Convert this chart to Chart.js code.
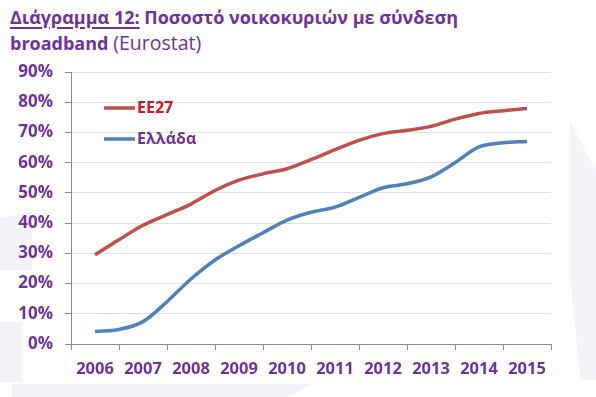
<!DOCTYPE html>
<html>
<head>
<meta charset="utf-8">
<script src="https://cdn.jsdelivr.net/npm/chart.js@4.4.1/dist/chart.umd.min.js"></script>
<style>
  html, body { margin: 0; padding: 0; background: #fff; }
  body { width: 596px; height: 397px; position: relative; overflow: hidden; font-family: "Open Sans", sans-serif; }
  .wm { position: absolute; background: #f3f4f8; }
  #title { position: absolute; left: 10px; top: 4px; color: #7030A0; font-size: 18px; line-height: 26px; white-space: nowrap; font-weight: 700; }
  #title span { font-weight: 400; font-size: 19.5px; }
  #title u { text-decoration-thickness: 2px; text-underline-offset: 3px; }
  #chartBox { position: absolute; left: 0; top: 0; width: 596px; height: 397px; }
</style>
</head>
<body>
<div class="wm" style="left:0;top:212px;width:32px;height:58px;clip-path:polygon(0 10%,100% 0,100% 100%,0 100%);"></div>
<div class="wm" style="left:0;top:322px;width:22px;height:60px;"></div>
<div class="wm" style="left:12px;top:384px;width:300px;height:13px;clip-path:polygon(0 0,100% 0,92% 100%,0 100%);"></div>
<div class="wm" style="left:570px;top:120px;width:26px;height:260px;clip-path:polygon(0 0,100% 20%,100% 100%,40% 100%,0 60%);"></div>
<div id="title"><u>Διάγραμμα 12:</u> Ποσοστό νοικοκυριών με σύνδεση<br>broadband <span>(Eurostat)</span></div>
<div id="chartBox"><canvas id="chart" width="596" height="397"></canvas></div>
<script>
// Half-year points, 2006 to 2015
const years = [2006, 2006.5, 2007, 2007.5, 2008, 2008.5, 2009, 2009.5, 2010, 2010.5,
               2011, 2011.5, 2012, 2012.5, 2013, 2013.5, 2014, 2014.5, 2015];
const eu27 = [29.5, 34.5, 39.3, 42.8, 46.3, 50.8, 54.2, 56.3, 58.0, 61.0,
              64.3, 67.4, 69.6, 70.7, 72.0, 74.4, 76.3, 77.2, 77.9];
const greece = [4.1, 4.8, 7.4, 14.0, 21.5, 27.8, 32.5, 36.8, 41.0, 43.6,
                45.3, 48.5, 51.7, 53.0, 55.3, 60.0, 65.2, 66.6, 67.0];
const yearLabels = ['2006', '2007', '2008', '2009', '2010', '2011', '2012', '2013', '2014', '2015'];
const yTicks = [0, 10, 20, 30, 40, 50, 60, 70, 80, 90];
const seriesNames = ['ΕΕ27', 'Ελλάδα'];

const purple = '#7030A0';
const toPoints = vals => vals.map((v, i) => ({ x: years[i], y: v }));

// Legend drawn inside the plot, top-left
const insideLegend = {
    id: 'insideLegend',
    afterDatasetsDraw(chart) {
        const ctx = chart.ctx;
        const a = chart.chartArea;
        const textColors = ['#E3101A', purple];
        ctx.save();
        ctx.font = 'bold 16px "Open Sans"';
        ctx.textBaseline = 'middle';
        chart.data.datasets.forEach((ds, i) => {
            const y = a.top + 36 + i * 31;
            ctx.strokeStyle = ds.borderColor;
            ctx.lineWidth = 3.5;
            ctx.beginPath();
            ctx.moveTo(a.left + 33, y);
            ctx.lineTo(a.left + 64, y);
            ctx.stroke();
            ctx.fillStyle = textColors[i];
            ctx.fillText(ds.label, a.left + 66, y);
        });
        ctx.restore();
    }
};

new Chart(document.getElementById('chart'), {
    type: 'line',
    data: {
        datasets: [{
            label: seriesNames[0],
            data: toPoints(eu27),
            borderColor: '#C0504D',
            borderWidth: 3.5,
            pointRadius: 0,
            cubicInterpolationMode: 'monotone'
        }, {
            label: seriesNames[1],
            data: toPoints(greece),
            borderColor: '#4F81BD',
            borderWidth: 3.5,
            pointRadius: 0,
            cubicInterpolationMode: 'monotone'
        }]
    },
    options: {
        responsive: false,
        animation: false,
        events: [],
        layout: { padding: { left: 0, right: 45, top: 72, bottom: 0 } },
        plugins: { legend: { display: false }, tooltip: { enabled: false } },
        scales: {
            x: {
                type: 'linear',
                min: 2005.5,
                max: 2015.5,
                afterBuildTicks: scale => {
                    const t = [];
                    for (let i = 0; i <= 20; i++) t.push({ value: 2005.5 + i * 0.5 });
                    scale.ticks = t;
                },
                afterFit: scale => { scale.height = 53; },
                border: { color: '#8c8c8c', width: 1 },
                grid: {
                    drawOnChartArea: false,
                    tickLength: 6,
                    tickColor: c => Number.isInteger(c.tick.value) ? 'rgba(0,0,0,0)' : '#8c8c8c'
                },
                ticks: {
                    autoSkip: false,
                    maxRotation: 0,
                    padding: 9,
                    color: purple,
                    font: { family: '"Open Sans"', size: 16.5, weight: 'bold' },
                    callback: v => Number.isInteger(v) ? yearLabels[v - 2006] : ''
                }
            },
            y: {
                min: 0,
                max: 90,
                afterBuildTicks: scale => { scale.ticks = yTicks.map(v => ({ value: v })); },
                afterFit: scale => { scale.width = 71; },
                border: { color: '#8c8c8c', width: 1 },
                grid: { color: '#dde2ea', lineWidth: 1, tickLength: 6, tickColor: '#8c8c8c' },
                ticks: {
                    padding: 12,
                    color: purple,
                    font: { family: '"Open Sans"', size: 17, weight: 'bold' },
                    callback: v => v + '%'
                }
            }
        }
    },
    plugins: [insideLegend]
});
</script>
</body>
</html>
